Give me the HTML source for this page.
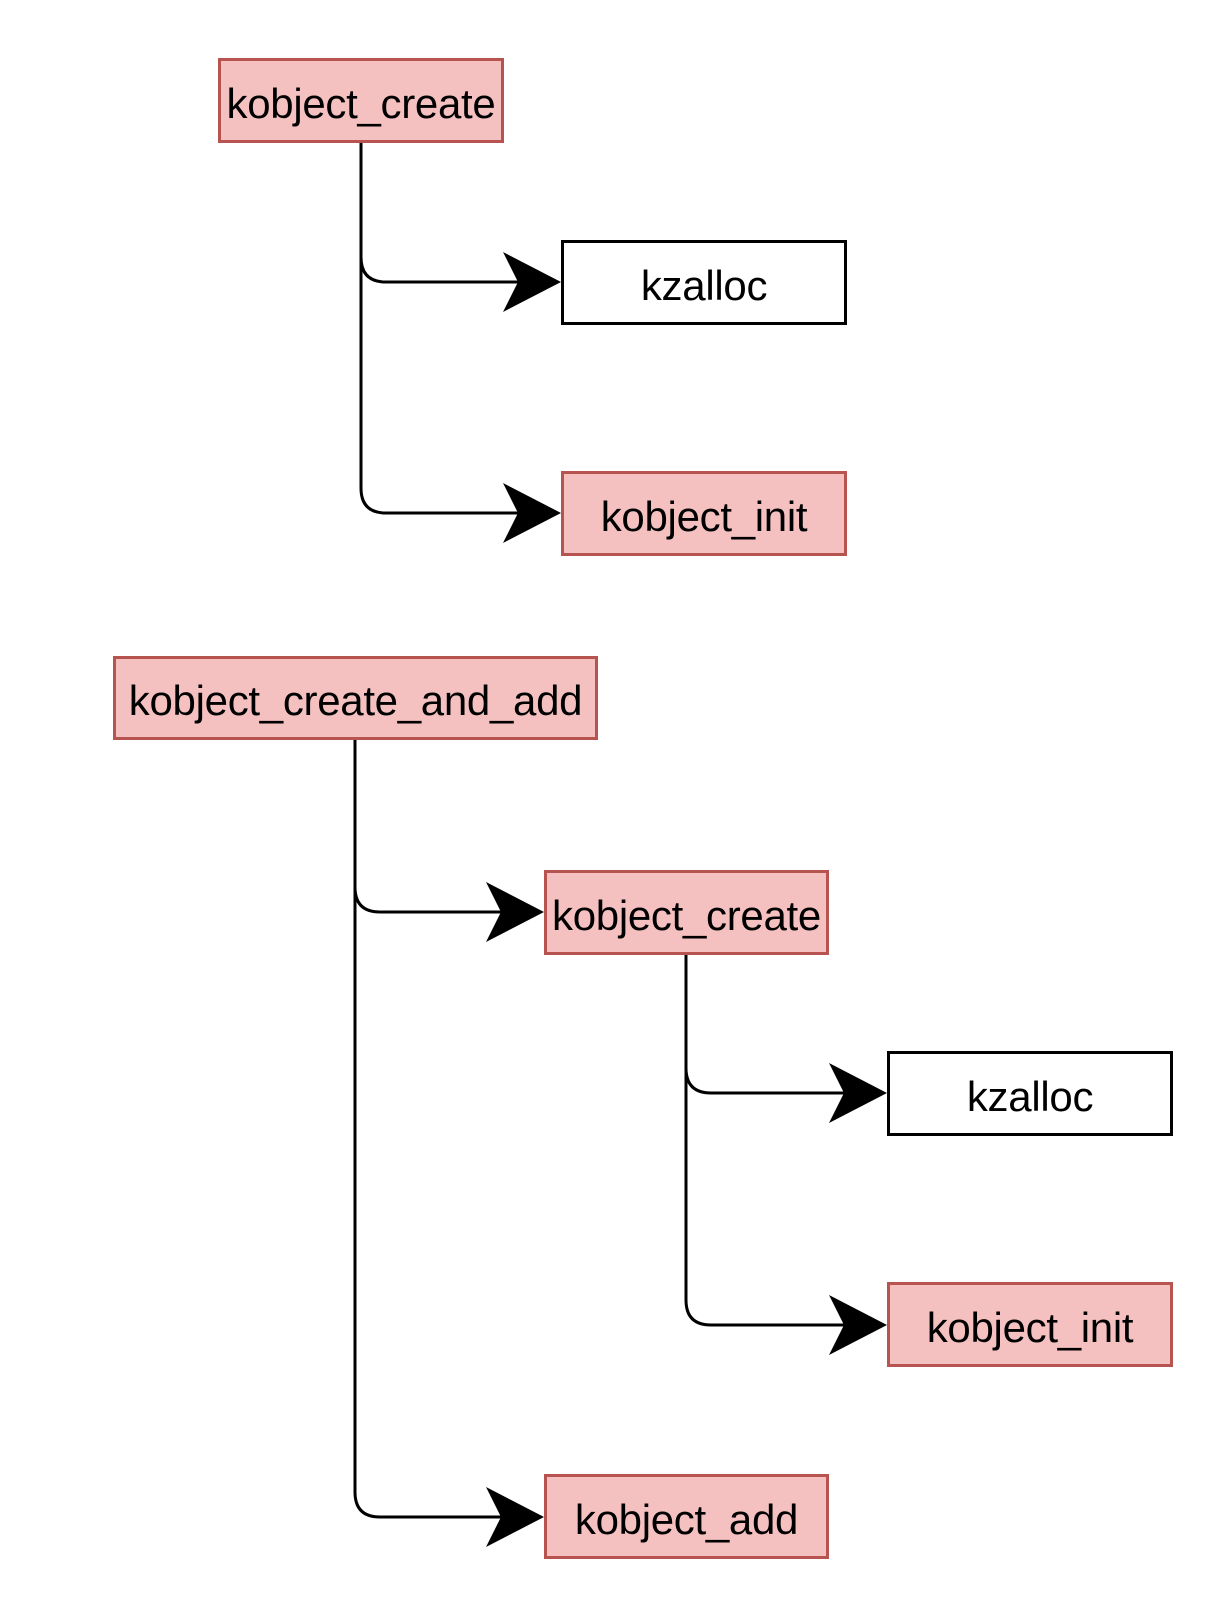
<!DOCTYPE html>
<html><head><meta charset="utf-8"><style>
html,body{margin:0;padding:0;background:#fff;}
body{width:1216px;height:1600px;position:relative;overflow:hidden;font-family:"Liberation Sans",Helvetica,Arial,sans-serif;}
.b{position:absolute;box-sizing:border-box;border:3px solid #b85450;background:#f4c1c0;display:flex;align-items:center;justify-content:center;font-size:42px;color:#000;white-space:nowrap;padding-top:6px;letter-spacing:-0.3px;}
.w{background:#fff;border-color:#000;}
svg{position:absolute;left:0;top:0;}
</style></head><body>
<svg width="1216" height="1600">
<g fill="none" stroke="#000" stroke-width="3">
<path d="M361 143 V257 Q361 282 386 282 H520"/>
<path d="M361 143 V488 Q361 513 386 513 H520"/>
<path d="M355 739 V887 Q355 912 380 912 H503"/>
<path d="M355 739 V1492 Q355 1517 380 1517 H503"/>
<path d="M686 954 V1068 Q686 1093 711 1093 H846"/>
<path d="M686 954 V1300 Q686 1325 711 1325 H846"/>
</g>
<g fill="#000">
<polygon points="561,282 503,252 518,282 503,312"/>
<polygon points="561,513 503,483 518,513 503,543"/>
<polygon points="544,912 486,882 501,912 486,942"/>
<polygon points="544,1517 486,1487 501,1517 486,1547"/>
<polygon points="887,1093 829,1063 844,1093 829,1123"/>
<polygon points="887,1325 829,1295 844,1325 829,1355"/>
</g>
</svg>
<div class="b" style="left:218px;top:58px;width:286px;height:85px;">kobject_create</div>
<div class="b w" style="left:561px;top:240px;width:286px;height:85px;">kzalloc</div>
<div class="b" style="left:561px;top:471px;width:286px;height:85px;">kobject_init</div>
<div class="b" style="left:113px;top:656px;width:485px;height:84px;">kobject_create_and_add</div>
<div class="b" style="left:544px;top:870px;width:285px;height:85px;">kobject_create</div>
<div class="b w" style="left:887px;top:1051px;width:286px;height:85px;">kzalloc</div>
<div class="b" style="left:887px;top:1282px;width:286px;height:85px;">kobject_init</div>
<div class="b" style="left:544px;top:1474px;width:285px;height:85px;">kobject_add</div>
</body></html>
